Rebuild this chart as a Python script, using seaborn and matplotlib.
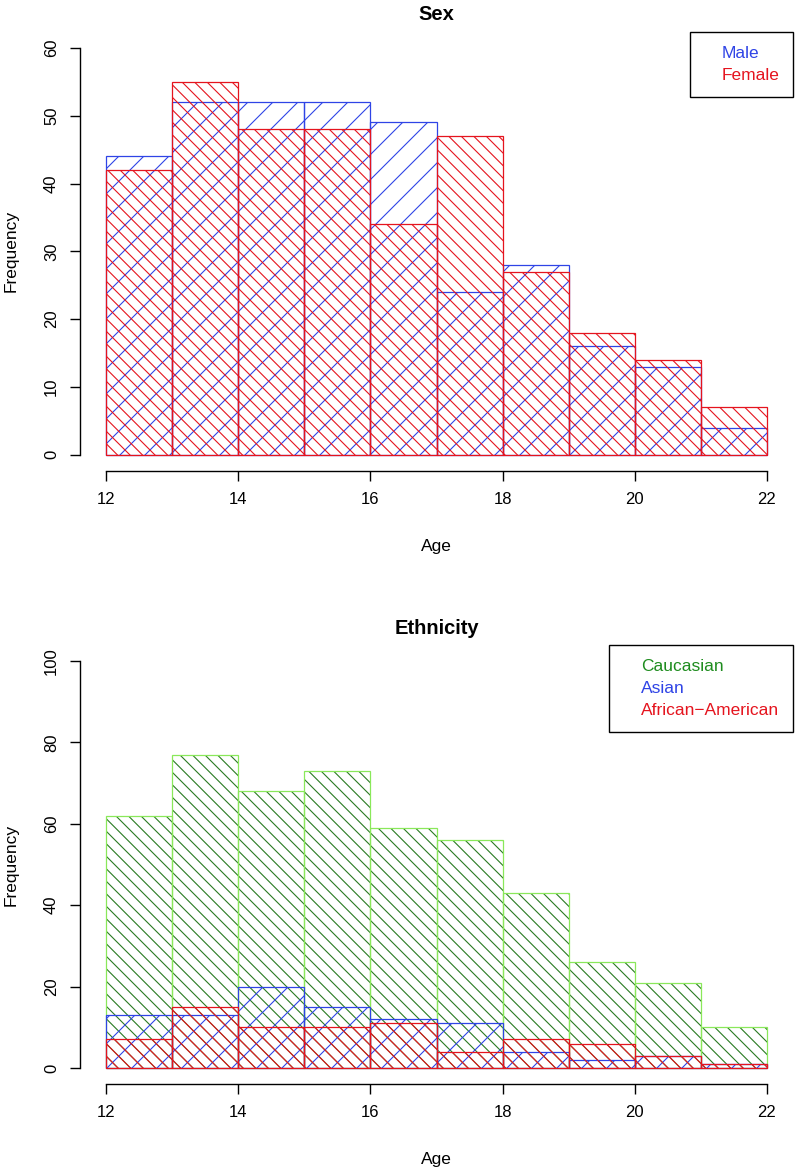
import numpy as np
import pandas as pd
import matplotlib
matplotlib.use("Agg")
import matplotlib.pyplot as plt
from matplotlib.lines import Line2D
import seaborn as sns

# === data (counts per 1-year age bin) ===
age_edges = list(range(12, 23))
age_left = age_edges[:-1]

male = [44, 52, 52, 52, 49, 24, 28, 16, 13, 4]
female = [42, 55, 48, 48, 34, 47, 27, 18, 14, 7]

caucasian = [62, 77, 68, 73, 59, 56, 43, 26, 21, 10]
asian = [13, 13, 20, 15, 12, 11, 4, 2, 3, 1]
african_american = [7, 15, 10, 10, 11, 4, 7, 6, 3, 1]

sex_labels = ["Male", "Female"]
eth_labels = ["Caucasian", "Asian", "African\u2212American"]

BLUE = "#2f44e6"
RED = "#e5141e"
DKGREEN = "#2a7a22"
LTGREEN = "#8ae85a"
TXTGREEN = "#1e8c1e"

# rendered at 150 dpi so the hatch spacing comes out close to R's density;
# S converts sizes worked out for 100 dpi into points at 150 dpi
DPI = 150
S = 100 / DPI

sns.set_style("ticks", {"axes.edgecolor": "black", "text.color": "black",
                        "axes.labelcolor": "black", "xtick.color": "black",
                        "ytick.color": "black"})
plt.rcParams["font.family"] = ["Liberation Sans", "DejaVu Sans"]
plt.rcParams["hatch.linewidth"] = 0.8 * S


def hist(ax, counts, color, hatch=None, lw=0.9):
    df = pd.DataFrame({"age": age_left, "n": counts})
    sns.histplot(data=df, x="age", weights="n", bins=age_edges, fill=False,
                 color=color, hatch=hatch, linewidth=lw * S, ax=ax)


def style_axes(ax, title, ymax, ystep, labels, colors):
    ax.set_xlim(11.6, 22.4)
    ax.set_ylim(-0.04 * ymax, 1.04 * ymax)
    ax.set_xticks(np.arange(12, 23, 2))
    ax.set_yticks(np.arange(0, ymax + 1, ystep))
    sns.despine(ax=ax)
    ax.spines["bottom"].set_bounds(12, 22)
    ax.spines["left"].set_bounds(0, ymax)
    for s in ("bottom", "left"):
        ax.spines[s].set_linewidth(1.0 * S)
    ax.tick_params(direction="out", length=7 * S, width=1.0 * S,
                   labelsize=12 * S, pad=8 * S, colors="black")
    ax.tick_params(axis="y", labelrotation=90)
    for t in ax.get_yticklabels():
        t.set_va("center")
    ax.set_title(title, fontsize=14.5 * S, fontweight="bold", pad=8 * S,
                 color="black")
    ax.set_xlabel("Age", fontsize=12.5 * S, labelpad=23 * S)
    ax.set_ylabel("Frequency", fontsize=12.5 * S, labelpad=18 * S)
    handles = [Line2D([], [], linestyle="none") for _ in labels]
    leg = ax.legend(handles, labels, loc="upper right", borderaxespad=0,
                    fontsize=12.5 * S, labelcolor=colors, frameon=True,
                    fancybox=False, framealpha=1, edgecolor="black",
                    borderpad=0.8, handlelength=0.54, handletextpad=0.5,
                    labelspacing=0.4)
    leg.get_frame().set_linewidth(1.0 * S)


fig = plt.figure(figsize=(798 / DPI, 1169 / DPI), dpi=DPI)

# === Sex ===
ax1 = fig.add_axes([0.100, 0.597, 0.894, 0.376])
hist(ax1, male, BLUE, "//")
hist(ax1, female, RED, "\\\\\\\\")
style_axes(ax1, "Sex", 60, 10, sex_labels, [BLUE, RED])

# === Ethnicity ===
ax2 = fig.add_axes([0.100, 0.0725, 0.894, 0.376])
hist(ax2, caucasian, DKGREEN, "\\\\\\\\", lw=0)
hist(ax2, caucasian, LTGREEN)
hist(ax2, asian, BLUE, "//")
hist(ax2, african_american, RED, "\\\\\\\\")
style_axes(ax2, "Ethnicity", 100, 20, eth_labels, [TXTGREEN, BLUE, RED])

fig.savefig("out.png", dpi=DPI)
